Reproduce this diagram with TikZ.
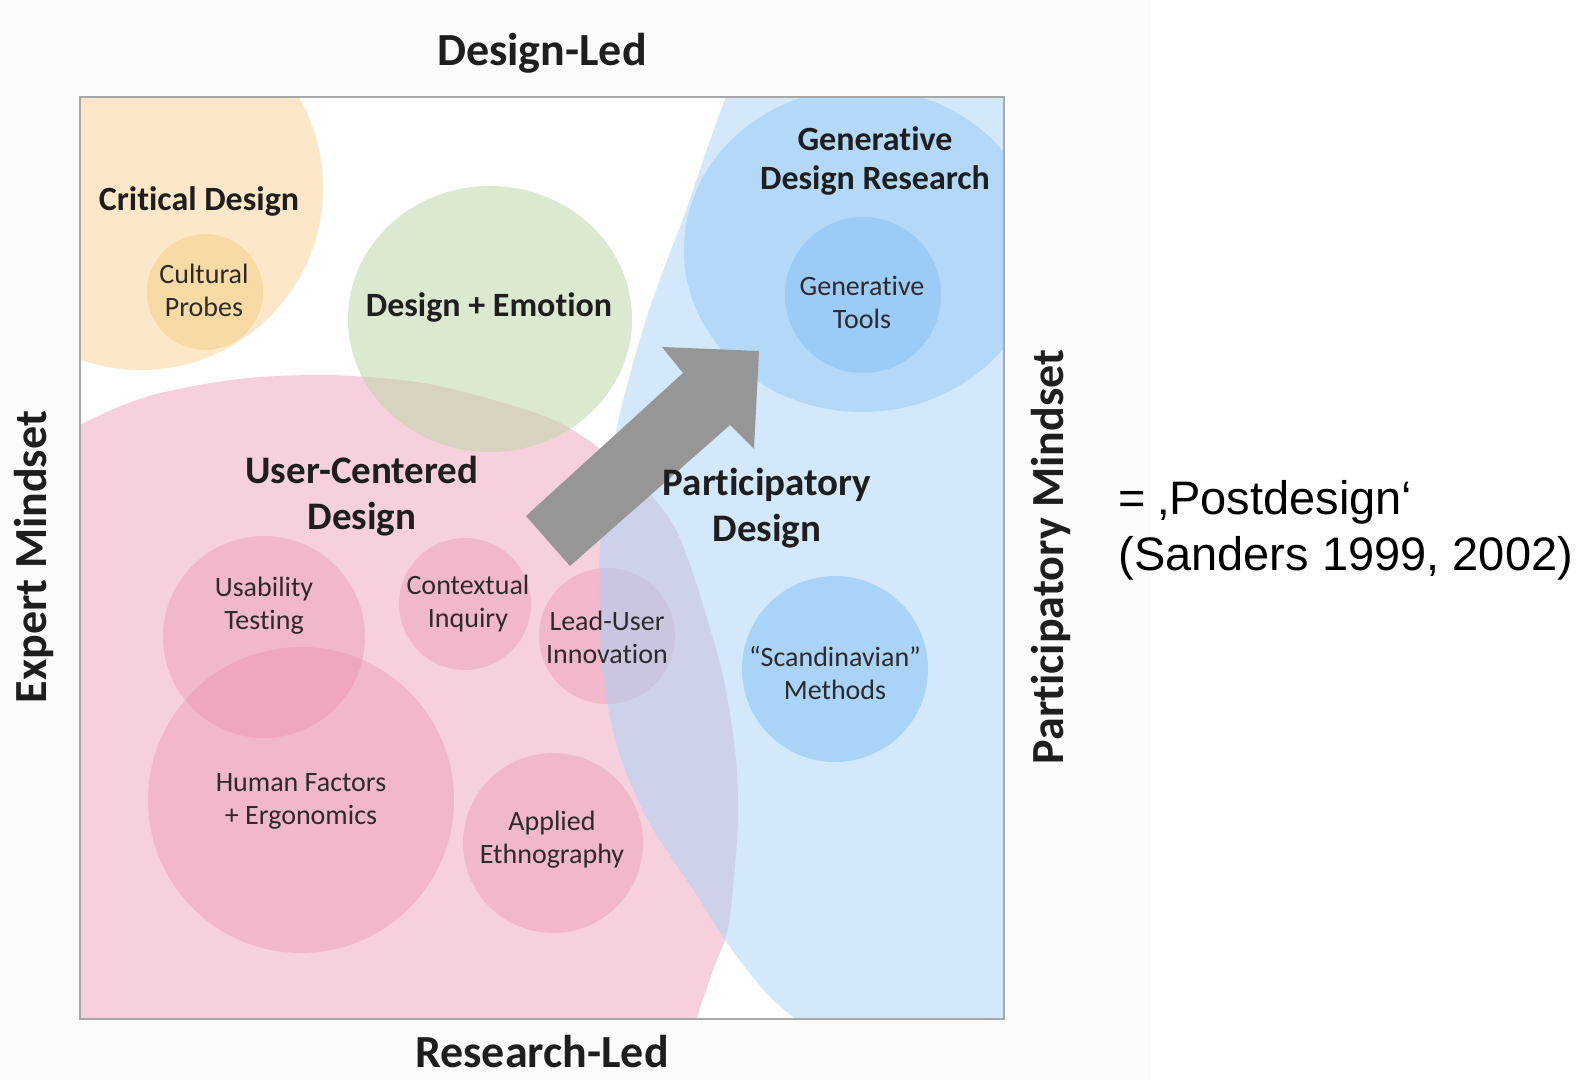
\documentclass[tikz,border=0pt]{standalone}
\usepackage{fontspec}
\setmainfont{Carlito}[Ligatures={NoCommon}]
\newfontfamily\arialfont{Liberation Sans}
\definecolor{txt}{HTML}{1E1E1E}
\definecolor{txtsmall}{HTML}{2E2A2C}
\definecolor{critfill}{HTML}{FCE8C8}
\definecolor{cultfill}{HTML}{F7DAA4}
\definecolor{pinkbase}{HTML}{F6D1DD}
\definecolor{pinksub}{HTML}{E8819F}
\definecolor{greenfill}{HTML}{B9D5A5}
\definecolor{bluefill}{HTML}{A8D2F7}
\definecolor{genfill}{HTML}{B3D8F8}
\definecolor{toolfill}{HTML}{9CCBF6}
\definecolor{scanfill}{HTML}{A9D3F7}
\definecolor{arrowgray}{HTML}{969696}
\definecolor{framegray}{HTML}{A8A8A8}
\definecolor{offwhite}{HTML}{FBFBFB}
\begin{document}
\begin{tikzpicture}[x=0.5pt,y=-0.5pt,
  axislbl/.style={font=\bfseries\fontsize{23}{27}\selectfont, text=txt, inner sep=0pt},
  biglbl/.style={font=\bfseries\fontsize{19.5}{23}\selectfont, text=txt, align=center, inner sep=0pt},
  midlbl/.style={font=\bfseries\fontsize{17}{19.5}\selectfont, text=txt, align=center, inner sep=0pt},
  smalllbl/.style={font=\fontsize{14}{16.5}\selectfont, text=txtsmall, align=center, inner sep=0pt},
  subbubble/.style={fill=pinksub, fill opacity=0.3}]
\useasboundingbox (0,0) rectangle (1589,1080);
\fill[white] (0,0) rectangle (1589,1080);
\fill[offwhite] (0,0) rectangle (1150,1080);
\fill[white] (80,97) rectangle (1004,1019);
\begin{scope}
  \clip (80,97) rectangle (1004,1019);
  % Critical design
  \fill[critfill] (141,188) circle [radius=182];
  \fill[cultfill] (205,292) circle [radius=58];
  % User-centered design (pink)
  \fill[pinkbase] plot[smooth] coordinates {(50,450) (80,425) (149,396) (239,379) (328,375) (417,382) (490,399) (560,423) (620,465) (676,530) (719,660) (735,750) (738,820) (733,887) (727,933) (713,970) (697,1017) (686,1050)} -- (40,1060) -- cycle;
  \fill[subbubble] (264,637) circle [radius=101];
  \fill[subbubble] (301,800) circle [radius=153];
  \fill[subbubble] (465,604) circle [radius=66];
  \fill[subbubble] (607,636) circle [radius=68];
  \fill[subbubble] (553,843) circle [radius=90];
  % Design + Emotion
  \fill[greenfill, fill opacity=0.5] (490,319) ellipse [x radius=142, y radius=133];
  % Participatory design (blue)
  \fill[bluefill, fill opacity=0.5] plot[smooth] coordinates {(750,60) (726,97) (685,213) (648,313) (620,413) (604,500) (599,580) (602,670) (618,750) (645,815) (673,860) (700,900) (723,937) (747,970) (770,997) (795,1019) (822,1045)} -- (1100,1045) -- (1100,60) -- cycle;
  % Generative design research
  \fill[genfill] (862,250) ellipse [x radius=178, y radius=162];
  \fill[toolfill] (863,295) circle [radius=78];
  \fill[scanfill] (835,669) circle [radius=93];
\end{scope}
\draw[framegray, line width=1.2pt] (80,97) rectangle (1004,1019);
% Arrow
\fill[arrowgray] (526,516) -- (683,373) -- (662,347) -- (759,351) -- (754,449) -- (730,425) -- (570,566) -- cycle;
% Axis labels
\node[axislbl] (tDL) at (542,53) {Design-Led};
\node[axislbl] (tRL) at (542,1052) {Research-Led};
\node[axislbl, rotate=90] (tEM) at (34,557) {Expert Mindset};
\node[axislbl, rotate=90] (tPM) at (1051,557) {Participatory Mindset};
% Bubble labels
\node[midlbl] (tCD) at (199,201) {Critical Design};
\node[smalllbl] (tCP) at (204,290) {Cultural\\Probes};
\node[midlbl] (tDE) at (489,307) {Design + Emotion};
\node[midlbl] (tGDR) at (875,161) {Generative\\Design Research};
\node[smalllbl] (tGT) at (862,302) {Generative\\Tools};
\node[biglbl] (tUCD) at (362,496) {User-Centered\\Design};
\node[biglbl] (tPD) at (767,508) {Participatory\\Design};
\node[smalllbl] (tUT) at (264,606) {Usability\\Testing};
\node[smalllbl] (tCI) at (468,604) {Contextual\\Inquiry};
\node[smalllbl] (tLUI) at (607,637) {Lead-User\\Innovation};
\node[smalllbl] (tHF) at (301,801) {Human Factors\\+ Ergonomics};
\node[smalllbl] (tAE) at (552,840) {Applied\\Ethnography};
\node[smalllbl] (tSM) at (835,673) {“Scandinavian”\\Methods};
% Right text
\node[anchor=west, align=left, inner sep=0pt, text=black, font=\arialfont\fontsize{23.5}{28}\selectfont] (tPost) at (1118,530) {= ‚Postdesign‘\\(Sanders 1999, 2002)};
\end{tikzpicture}
\end{document}
